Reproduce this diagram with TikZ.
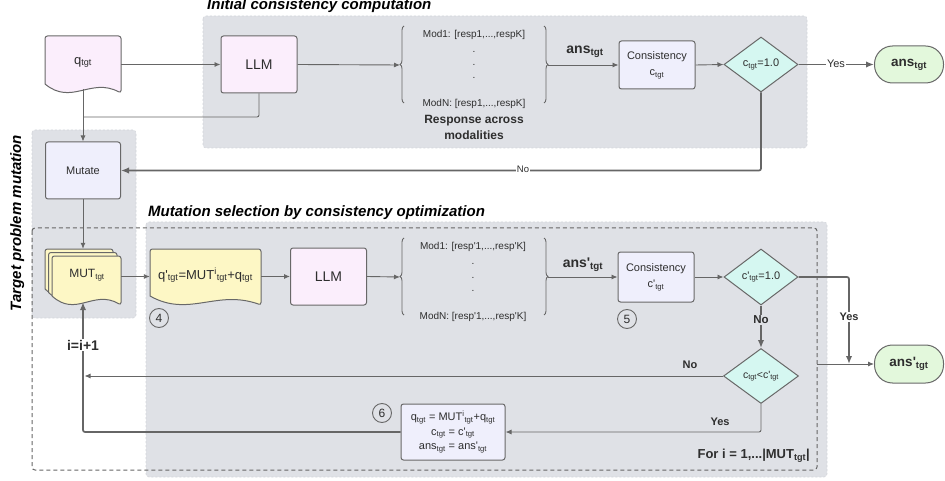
\documentclass[tikz,border=0pt]{standalone}
\usepackage{fontspec}
\setmainfont{Liberation Sans}
\usetikzlibrary{arrows.meta,shapes.geometric,decorations.pathreplacing,calc}
\definecolor{panel}{HTML}{DFE1E6}
\definecolor{panelb}{HTML}{D2D5DA}
\definecolor{lc}{HTML}{666666}
\definecolor{bc}{HTML}{686868}
\definecolor{tc}{HTML}{2E2E2E}
\definecolor{pinkf}{HTML}{FBEEFC}
\definecolor{lavf}{HTML}{EFEFFC}
\definecolor{yelf}{HTML}{FDF7C5}
\definecolor{cyanf}{HTML}{D5F7F1}
\definecolor{greenf}{HTML}{E3F8DC}
\newcommand{\Tg}{\textsubscript{tgt}}
\newcommand{\pr}{\textquotesingle}
\newcommand{\fsz}[2]{\fontsize{#1}{#2}\selectfont}
\newcommand{\docshape}[5]{%
  \pgfmathsetmacro{\dW}{#3-#1}%
  \filldraw[#5] [rounded corners=2.5pt] (#1,#4-9) -- (#1,#2) -- (#3,#2) -- (#3,#4) [sharp corners]
    .. controls (#1+0.6*\dW,#4-16) and (#1+0.35*\dW,#4+13) .. (#1,#4-9) -- cycle;}
\tikzset{
  ln/.style={draw=lc, line width=0.9pt, rounded corners=2pt},
  arr/.style={ln, -{Latex[length=6pt,width=5pt]}},
  tk/.style={draw=lc, line width=1.7pt, rounded corners=2pt},
  tarr/.style={tk, -{Latex[length=8pt,width=6.5pt]}},
  bx/.style={draw=bc, line width=1pt, rounded corners=2.5pt, inner sep=0pt, align=center, text=tc},
  txt/.style={inner sep=0pt, text=tc, align=center},
  dia/.style={diamond, draw=bc, line width=1pt, fill=cyanf, inner sep=0pt, aspect=1.35, text=tc},
  term/.style={draw=bc, line width=1pt, rounded corners=18pt, fill=greenf, inner sep=0pt, text=tc},
  docs/.style={draw=bc, line width=1pt},
  num/.style={circle, draw=bc, line width=0.9pt, minimum size=19pt, inner sep=0pt, text=tc},
  ttl/.style={inner sep=0pt, text=black, font=\fsz{15}{18}\bfseries\itshape},
  lab/.style={inner sep=1pt, text=tc},
  brc/.style={draw=lc, line width=0.9pt, decorate, decoration={brace, amplitude=4pt}},
  pnl/.style={fill=panel, draw=panelb, line width=0.6pt, dash pattern=on 2pt off 2pt, rounded corners=3pt},
  dbox/.style={draw=lc, line width=1pt, dash pattern=on 4pt off 3pt, rounded corners=3pt},
}
\begin{document}
\begin{tikzpicture}[x=1pt,y=-1pt]
\useasboundingbox (0,0) rectangle (945,481);
% panels
\filldraw[pnl] (203,16) rectangle (807,148);
\filldraw[pnl] (32,130) rectangle (136,318);
\filldraw[pnl] (146,222) rectangle (827,477);
\draw[dbox] (32,228) rectangle (817,470);
% titles
\node[ttl, anchor=base west] (t1) at (207,10) {Initial consistency computation};
\node[ttl, anchor=base west] (t2) at (148,217) {Mutation selection by consistency optimization};
\node[ttl, anchor=base, rotate=90] (t3) at (21,223) {Target problem mutation};
% ---- top row
\docshape{45}{36}{121}{93}{docs, fill=pinkf}
\node[txt, font=\fsz{13}{15}, minimum width=76pt, minimum height=53pt] (q) at (83,62.5) {q\Tg};
\node[bx, fill=pinkf, minimum width=76pt, minimum height=57pt, font=\fsz{14}{16}] (llm1) at (259,64.5) {LLM};
\node[bx, fill=lavf, minimum width=75pt, minimum height=57pt, font=\fsz{11}{13}] (mutate) at (83,170.5) {Mutate};
\node[txt, font=\fsz{10}{12}] (m1) at (474,35) {Mod1: [resp1,...,respK]};
\node[txt, font=\fsz{10}{12}, anchor=base] (da1) at (474,53) {.};
\node[txt, font=\fsz{10}{12}, anchor=base] (da2) at (474,66) {.};
\node[txt, font=\fsz{10}{12}, anchor=base] (da3) at (474,79) {.};
\node[txt, font=\fsz{10}{12}] (mn) at (474,104) {ModN: [resp1,...,respK]};
\node[txt, font=\fsz{12}{16}\bfseries] (rl) at (474,127) {Response across\\modalities};
\coordinate (b1l) at (400,65);
\coordinate (b1r) at (548,65);
\draw[brc] (404,103) -- (404,26);
\draw[brc] (544,26) -- (544,103);
\node[txt, font=\fsz{14}{16}\bfseries] (al1) at (585,52) {ans\Tg};
\node[bx, fill=lavf, minimum width=76pt, minimum height=48pt, font=\fsz{11}{16}] (c1) at (657,65) {Consistency\\c\Tg};
\node[dia, minimum width=74pt, minimum height=55pt, font=\fsz{11}{13}] (d1) at (761,64.5) {c\Tg=1.0};
\node[term, minimum width=69pt, minimum height=37pt, font=\fsz{13.5}{15}\bfseries] (a1) at (909,64.5) {ans\Tg};
\coordinate (j1) at (83,117);
\draw[arr] (q.east |- llm1.west) -- (llm1.west);
\draw[ln] (llm1.south) |- (j1);
\draw[arr] (q.south) -- (mutate.north);
\draw[arr] (llm1.east) -- (b1l);
\draw[arr] (b1r) -- (c1.west);
\draw[arr] (c1.east) -- (d1.west);
\draw[tarr] (d1.east) -- (a1.west);
\node[lab, fill=white, font=\fsz{11}{13}] (y1) at (836,63.5) {Yes};
\draw[tarr] (d1.south) |- (mutate.east);
\node[lab, fill=white, font=\fsz{9.5}{11}] (no1) at (523,169.5) {No};
% ---- bottom row
\docshape{45}{249}{113}{298}{docs, fill=yelf}
\docshape{48.5}{252.5}{117}{301.5}{docs, fill=yelf}
\docshape{52}{256}{121}{305}{docs, fill=yelf}
\node[txt, font=\fsz{12}{14}, minimum width=76pt, minimum height=53pt] (mut) at (83,275.5) {\hspace*{8pt}MUT\Tg};
\docshape{150}{249}{261}{305}{docs, fill=yelf}
\node[txt, font=\fsz{13}{15}, minimum width=111pt, minimum height=53pt] (qp) at (205.5,275.5) {q\pr\Tg=MUT\textsuperscript{i}\Tg+q\Tg};
\node[num, font=\fsz{12}{14}] (n4) at (159,318) {4};
\node[bx, fill=pinkf, minimum width=76pt, minimum height=57pt, font=\fsz{14}{16}] (llm2) at (328.5,276.5) {LLM};
\node[txt, font=\fsz{10}{12}] (m1b) at (473,247) {Mod1: [resp\pr1,...,resp\pr K]};
\node[txt, font=\fsz{10}{12}, anchor=base] (db1) at (473,264) {.};
\node[txt, font=\fsz{10}{12}, anchor=base] (db2) at (473,278) {.};
\node[txt, font=\fsz{10}{12}, anchor=base] (db3) at (473,291) {.};
\node[txt, font=\fsz{10}{12}] (mnb) at (473,317) {ModN: [resp\pr1,...,resp\pr K]};
\coordinate (b2l) at (400,277);
\coordinate (b2r) at (548,277);
\draw[brc] (404,315) -- (404,238);
\draw[brc] (544,238) -- (544,315);
\node[txt, font=\fsz{14}{16}\bfseries] (al2) at (583,265) {ans\pr\Tg};
\node[bx, fill=lavf, minimum width=76pt, minimum height=50pt, font=\fsz{11}{16}] (c2) at (656,277) {Consistency\\c\pr\Tg};
\node[num, font=\fsz{12}{14}] (n5) at (627,319) {5};
\node[dia, minimum width=74pt, minimum height=56pt, font=\fsz{11}{13}] (d2) at (761,277) {c\pr\Tg=1.0};
\node[dia, minimum width=75pt, minimum height=55pt, font=\fsz{10.5}{12}] (d3) at (761,376) {c\Tg<c\pr\Tg};
\node[term, minimum width=69pt, minimum height=38pt, font=\fsz{13.5}{15}\bfseries] (a2) at (909,364) {ans\pr\Tg};
\node[bx, fill=lavf, minimum width=104pt, minimum height=56pt, font=\fsz{11}{14.5}] (b6) at (453,432) {q\Tg{} = MUT\textsuperscript{i}\Tg+q\Tg\\c\Tg{} = c\pr\Tg\\ans\Tg{} = ans\pr\Tg};
\node[num, font=\fsz{12}{14}] (n6) at (382,413) {6};
\node[txt, font=\fsz{13}{15}\bfseries, anchor=east] (fori) at (810,456) {For i = 1,...|MUT\Tg|};
\coordinate (yj) at (849,364);
\coordinate (dr) at (817,364);
\coordinate (j3) at (84.5,376);
\draw[arr] (mutate.south) -- (mut.north);
\draw[arr] (mut.east |- llm2.west) -- (qp.west |- llm2.west);
\draw[arr] (qp.east |- llm2.west) -- (llm2.west);
\draw[arr] (llm2.east) -- (b2l);
\draw[arr] (b2r) -- (c2.west);
\draw[arr] (c2.east) -- (d2.west);
\draw[tarr] (d2.east) -| (yj);
\node[lab, fill=white, font=\fsz{11}{13}\bfseries] (y2) at (849,317) {Yes};
\draw[arr] (dr) -- (a2.west);
\draw[tarr] (d2.south) -- (d3.north);
\node[lab, fill=panel, font=\fsz{11.5}{13}\bfseries] (no2) at (761,320) {No};
\draw[arr] (d3.west) -- (j3);
\node[lab, font=\fsz{11}{13}\bfseries] (no3) at (690,365) {No};
\draw[arr] (d3.south) |- (b6.east);
\node[lab, font=\fsz{11}{13}\bfseries] (y3) at (720,422) {Yes};
\draw[tarr] (b6.west) -| (mut.south);
\node[lab, fill=white, font=\fsz{14}{16}\bfseries] (inc) at (83,345) {i=i+1};
\end{tikzpicture}
\end{document}
